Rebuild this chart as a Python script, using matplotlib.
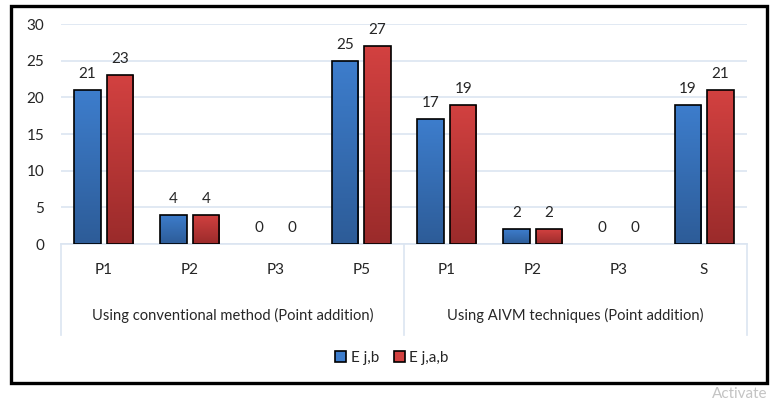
"""
Grouped bar chart: point addition errors, conventional vs AIVM
"""
import numpy as np
import matplotlib
matplotlib.use("Agg")
import matplotlib.pyplot as plt
from matplotlib.patches import Rectangle
from matplotlib.colors import LinearSegmentedColormap

plt.rcParams['font.family'] = ['Lato', 'DejaVu Sans']

categories = ["P1", "P2", "P3", "P5", "P1", "P2", "P3", "S"]
groups = ["Using conventional method (Point addition)",
          "Using AIVM techniques (Point addition)"]
group_sizes = [4, 4]
e_jb = [21, 4, 0, 25, 17, 2, 0, 19]
e_jab = [23, 4, 0, 27, 19, 2, 0, 21]
series_names = ["E j,b", "E j,a,b"]
yticks = [0, 5, 10, 15, 20, 25, 30]

BLUE = ("#3d7dcc", "#2d5c98")
RED = ("#d24140", "#9b2b2b")
GRID = "#dbe5f1"

W, H = 779, 408
fig = plt.figure(figsize=(W / 100, H / 100), dpi=100)
ax = fig.add_axes([61 / W, 1 - 244 / H, (747 - 61) / W, (244 - 24) / H])

x = np.arange(len(categories))
bw = 0.31
off = 0.19


def gradient_bars(bars, cols):
    # fill each bar with a vertical gradient clipped to its outline
    cmap = LinearSegmentedColormap.from_list("g", [cols[1], cols[0]])
    grad = np.linspace(0, 1, 64).reshape(-1, 1)
    for b in bars:
        h = b.get_height()
        if h <= 0:
            continue
        x0 = b.get_x()
        im = ax.imshow(grad, cmap=cmap, aspect='auto', origin='lower',
                       extent=(x0, x0 + b.get_width(), 0, h), zorder=2)
        im.set_clip_path(b)


for vals, cols, sign, name in [(e_jb, BLUE, -1, series_names[0]),
                               (e_jab, RED, 1, series_names[1])]:
    lws = [0 if v == 0 else 1.2 for v in vals]
    bars = ax.bar(x + sign * off, vals, bw, color=cols[0], edgecolor="black",
                  linewidth=lws, zorder=3, label=name)
    for b in bars:
        b.set_facecolor("none")
    gradient_bars(bars, cols)
    for xi, v in zip(x + sign * off, vals):
        ax.annotate(str(v), (xi, v), xytext=(0, 11.5), textcoords="offset points",
                    ha="center", va="center", fontsize=11, color="#262626")

ax.set_xlim(-0.5, len(categories) - 0.5)
ax.set_ylim(0, 30)
ax.set_yticks(yticks)
ax.tick_params(axis='y', length=0, pad=12, labelsize=11, labelcolor="#262626")
ax.set_xticks([])
for s in ax.spines.values():
    s.set_visible(False)
ax.grid(axis='y', color=GRID, linewidth=1.2, zorder=0)
ax.set_axisbelow(True)

# category axis drawn below the plot
tr = ax.get_xaxis_transform()
ax.plot([-0.5, len(categories) - 0.5], [0, 0], transform=tr, color=GRID,
        lw=1.2, clip_on=False, zorder=1)
bounds = np.cumsum([0] + group_sizes) - 0.5
for bx in bounds:
    ax.plot([bx, bx], [0, -91 / 220], transform=tr, color=GRID, lw=1.2,
            clip_on=False)
for xi, c in zip(x, categories):
    ax.text(xi, -26 / 220, c, transform=tr, ha="center", va="center",
            fontsize=11, color="#262626")
for i, g in enumerate(groups):
    ax.text((bounds[i] + bounds[i + 1]) / 2, -71 / 220, g, transform=tr,
            ha="center", va="center", fontsize=10.6, color="#262626")

handles = [Rectangle((0, 0), 1, 1, fc=BLUE[0], ec="black", lw=1.2),
           Rectangle((0, 0), 1, 1, fc=RED[0], ec="black", lw=1.2)]
fig.legend(handles, series_names, loc="center", bbox_to_anchor=(392 / W, 1 - 358 / H),
           ncol=2, frameon=False, fontsize=11, handlelength=0.7, handleheight=0.7,
           handletextpad=0.3, columnspacing=1.0, labelcolor="#262626")

# outer chart frame
fig.patches.append(Rectangle((11 / W, 1 - 383 / H), (767 - 11) / W, (383 - 6) / H,
                             transform=fig.transFigure, fill=False,
                             ec="black", lw=2.4))
fig.text(712 / W, 1 - 394 / H, "Activate", color="#c4c4c4",
         fontsize=11, va="center", ha="left")

fig.savefig("out.png", dpi=100)
